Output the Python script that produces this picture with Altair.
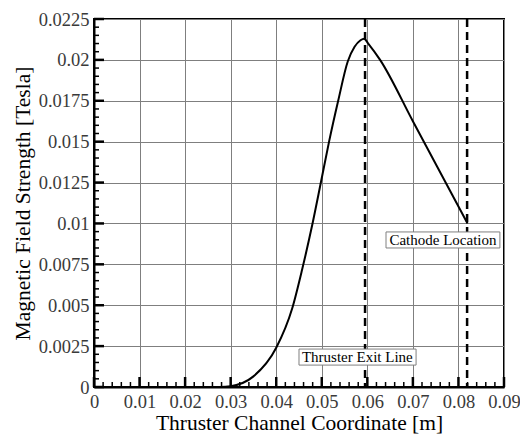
import altair as alt
import pandas as pd

# ---- data ----
x_coord = [0.0, 0.02, 0.0276, 0.03, 0.035, 0.04, 0.0435, 0.0457, 0.0479, 0.0498,
           0.0516, 0.0536, 0.0557, 0.0572, 0.0585, 0.0593, 0.0602, 0.0628,
           0.07, 0.082]
field_T = [0.0, 0.0, 0.0, 0.00005, 0.00065, 0.0024, 0.0048, 0.0072, 0.0099, 0.0125,
           0.015, 0.0175, 0.0199, 0.0208, 0.0212, 0.0213, 0.0210, 0.0200,
           0.01625, 0.0100]

marker_x = [0.0595, 0.0819]

ann_label = ["Thruster Exit Line", "Cathode Location"]
ann_x = [0.0578, 0.0766]
ann_y = [0.00183, 0.0090]
ann_x0 = [0.0450, 0.0641]
ann_x1 = [0.0707, 0.0891]
ann_y0 = [0.00134, 0.0085]
ann_y1 = [0.00232, 0.00948]

x_ticks = [0, 0.01, 0.02, 0.03, 0.04, 0.05, 0.06, 0.07, 0.08, 0.09]
y_ticks = [0, 0.0025, 0.005, 0.0075, 0.01, 0.0125, 0.015, 0.0175, 0.02, 0.0225]
x_minor = [round(i * 0.002, 4) for i in range(46) if i % 5 != 0]
y_minor = [round(i * 0.0005, 4) for i in range(46) if i % 5 != 0]

W, H = 410, 368
FONT = "Liberation Serif"
LBL = "format(datum.value, '.6~g')"

xs = alt.Scale(domain=[0, 0.09], nice=False, zero=False)
ys = alt.Scale(domain=[0, 0.0225], nice=False, zero=False)
xaxis = alt.Axis(values=x_ticks, labelExpr=LBL, ticks=False, labelFlush=False,
                 labelFont=FONT, titleFont=FONT, titleFontSize=21.5,
                 title="Thruster Channel Coordinate [m]", titlePadding=2)
yaxis = alt.Axis(values=y_ticks, labelExpr=LBL, ticks=False, labelFlush=False,
                 labelFont=FONT, titleFont=FONT, titleFontSize=21.5,
                 title="Magnetic Field Strength [Tesla]", titlePadding=4)


def X(f):
    return alt.X(f, type="quantitative", scale=xs, axis=xaxis)


def Y(f):
    return alt.Y(f, type="quantitative", scale=ys, axis=yaxis)


df = pd.DataFrame({"x": x_coord, "y": field_T})
line = alt.Chart(df).mark_line(color="black", strokeWidth=2, interpolate="monotone").encode(
    x=X("x"), y=Y("y"))

markers = alt.Chart(pd.DataFrame({"x": marker_x})).mark_rule(
    color="black", strokeWidth=2.5, strokeDash=[8, 5]
).encode(x=X("x"))

ann = pd.DataFrame({"label": ann_label, "x": ann_x, "y": ann_y,
                    "x0": ann_x0, "x1": ann_x1, "y0": ann_y0, "y1": ann_y1})
boxes = alt.Chart(ann).mark_rect(fill="white", stroke="#808080", strokeWidth=1).encode(
    x=X("x0"), x2="x1:Q", y=Y("y0"), y2="y1:Q")
texts = alt.Chart(ann).mark_text(font=FONT, fontSize=15, color="black").encode(
    x=X("x"), y=Y("y"), text="label:N")

xmaj = alt.Chart(pd.DataFrame({"x": x_ticks})).mark_rule(color="black", strokeWidth=2.5).encode(
    x=X("x"), y=alt.value(H), y2=alt.value(H - 10))
xmin = alt.Chart(pd.DataFrame({"x": x_minor})).mark_rule(color="black", strokeWidth=1.5).encode(
    x=X("x"), y=alt.value(H), y2=alt.value(H - 5))
ymaj = alt.Chart(pd.DataFrame({"y": y_ticks})).mark_rule(color="black", strokeWidth=2.5).encode(
    y=Y("y"), x=alt.value(0), x2=alt.value(10))
ymin = alt.Chart(pd.DataFrame({"y": y_minor})).mark_rule(color="black", strokeWidth=1.5).encode(
    y=Y("y"), x=alt.value(0), x2=alt.value(5))

chart = alt.layer(line, markers, boxes, texts, xmaj, xmin, ymaj, ymin).properties(
    width=W, height=H, autosize="none",
    padding={"left": 94, "top": 19, "right": 16, "bottom": 48},
).configure(font=FONT).configure_view(stroke="black", strokeWidth=2).configure_axis(
    domainColor="black", domainWidth=2,
    gridColor="#7f7f7f", gridWidth=1, gridOpacity=1,
    labelFont=FONT, labelFontSize=18.5, labelColor="#3a3a3a", labelPadding=5,
    titleFont=FONT, titleFontWeight="normal", titleColor="black",
)

chart.save("out.html", embed_options={"renderer": "svg", "actions": False})
